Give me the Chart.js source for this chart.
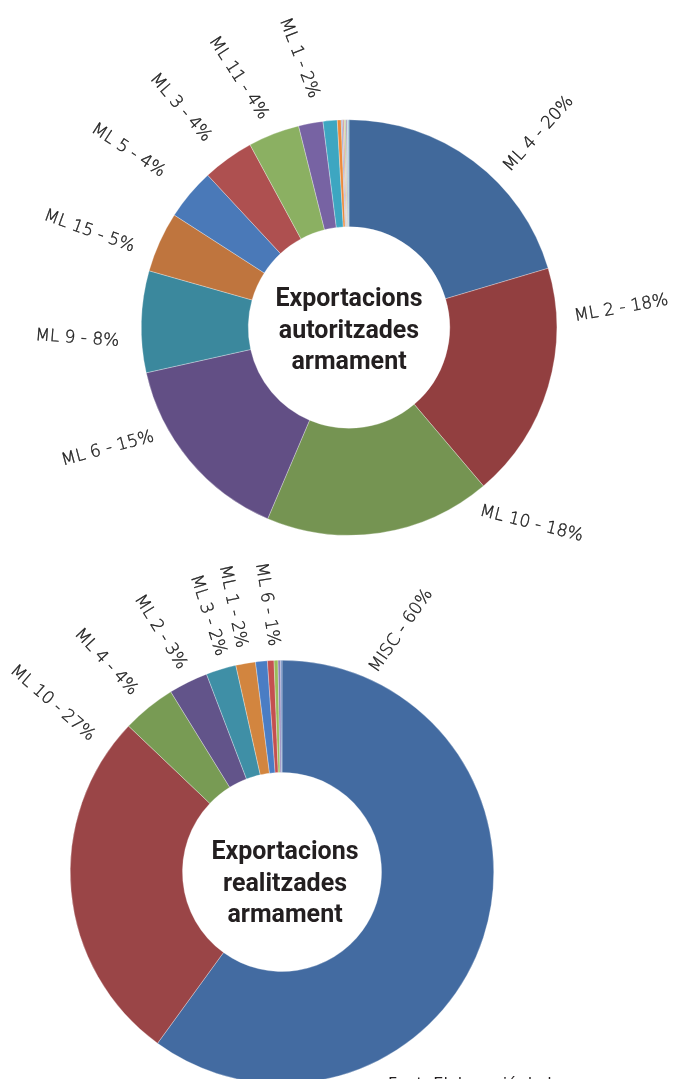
<!DOCTYPE html>
<html><head><meta charset="utf-8">
<script src="https://cdn.jsdelivr.net/npm/chart.js@4.4.1/dist/chart.umd.min.js"></script>
<style>
html,body{margin:0;padding:0;background:#fff;overflow:hidden;width:673px;height:1079px;position:relative}
#c1{position:absolute;left:0;top:0}
#c2{position:absolute;left:0;top:545px}
#src{position:absolute;left:388px;top:1076px;font:16px "DejaVu Sans";line-height:16px;color:#231f20;white-space:nowrap}
</style></head><body>
<canvas id="c1" width="673" height="545"></canvas>
<canvas id="c2" width="673" height="560"></canvas>
<div id="src">Font: Elaboració de la</div>
<script>
// ---- Data: authorised exports (top) ----
const authCategories = ['ML 4','ML 2','ML 10','ML 6','ML 9','ML 15','ML 5','ML 3','ML 11','ML 1','ML 8','ML 13','ML 7','ML 12','ML 14','ML 16','ML 17'];
const authValues = [20.4,18.4,17.6,15.1,7.9,4.7,4.0,4.0,4.0,1.9,1.1,0.3,0.12,0.12,0.12,0.12,0.12];
const authLabeled = 10; // first N categories carry a text label
// ---- Data: realised exports (bottom) ----
const realCategories = ['MISC','ML 10','ML 4','ML 2','ML 3','ML 1','ML 6','ML 5','ML 11','ML 9','ML 15'];
const realValues = [60.0,27.1,4.1,3.0,2.3,1.5,0.9,0.5,0.3,0.2,0.1];
const realLabeled = 7;
const authTitle = ['Exportacions','autoritzades','armament'];
const realTitle = ['Exportacions','realitzades','armament'];

// ---- Styles / layout ----
const authColors = ['#41699B','#923F40','#759452','#624F85','#3B889D','#BF753E','#4A79B8','#AE5050','#8BB062','#7763A3','#3DA6C1','#EB8A3B','#94A9D4','#D79896','#B7CD8E','#A799C1','#9AC8D8'];
const realColors = ['#436BA1','#9A4547','#789B54','#62548A','#3F8FA6','#D2853F','#4A7DC4','#C4504F','#9ABB5B','#8E7FB8','#6A8AC0'];
// label placement: [angle from top (deg, clockwise), distance from centre (px), text rotation (deg)]
const authLabelPos = [[44.4,271,-48],[86.0,273,-10],[137.1,268,14],[243.3,270,-15],[267.7,272,4],[290.3,277,20],[308.7,283,33],[322.5,277,49],[336.1,273,57],[349.5,274,69]];
const realLabelPos = [[26.3,269,-55],[306.3,285,41],[320,274,47],[333.1,269,58],[343.9,267,72],[349.5,270,78],[356.8,268,81]];

const labelPlugin = {
  id: 'radialLabels',
  afterDraw(chart, args, opts) {
    const ctx = chart.ctx;
    const meta = chart.getDatasetMeta(0);
    const arc = meta.data[0];
    const cx = arc.x, cy = arc.y;
    const cats = chart.data.labels, vals = chart.data.datasets[0].data;
    ctx.save();
    ctx.fillStyle = '#222';
    ctx.strokeStyle = '#222';
    ctx.lineWidth = 0.4;
    ctx.font = '200 17px "DejaVu Sans", "Open Sans", sans-serif';
    ctx.textAlign = 'center';
    ctx.textBaseline = 'middle';
    opts.pos.forEach((p, i) => {
      const a = p[0] * Math.PI / 180;
      const x = cx + p[1] * Math.sin(a), y = cy - p[1] * Math.cos(a);
      const txt = cats[i] + ' - ' + Math.round(vals[i]) + '%';
      ctx.save();
      ctx.translate(x, y);
      ctx.rotate(p[2] * Math.PI / 180);
      ctx.fillText(txt, 0, 0);
      ctx.strokeText(txt, 0, 0);
      ctx.restore();
    });
    // centre title
    ctx.fillStyle = '#231f20';
    ctx.font = 'bold 25px Roboto, "DejaVu Sans", sans-serif';
    ctx.textBaseline = 'alphabetic';
    opts.title.forEach((t, k) => {
      ctx.fillText(t, cx + opts.dx, cy + opts.y0 + k * 31.5);
    });
    ctx.restore();
  }
};

function makeChart(id, cats, vals, colors, pos, title, padding, cutout, y0, dx) {
  return new Chart(document.getElementById(id), {
    type: 'doughnut',
    data: { labels: cats, datasets: [{ data: vals, backgroundColor: colors, borderColor: 'rgba(255,255,255,0.6)', borderWidth: 0.5 }] },
    options: {
      responsive: false, animation: false, cutout: cutout,
      layout: { padding: padding },
      plugins: { legend: { display: false }, tooltip: { enabled: false },
        radialLabels: { pos: pos, title: title, y0: y0, dx: dx } }
    },
    plugins: [labelPlugin]
  });
}

makeChart('c1', authCategories, authValues, authColors, authLabelPos.slice(0, authLabeled), authTitle,
  { left: 141, right: 116, top: 119, bottom: 9 }, '48.5%', -21.5, 0);
makeChart('c2', realCategories, realValues, realColors, realLabelPos.slice(0, realLabeled), realTitle,
  { left: 70, right: 179, top: 115, bottom: 21 }, '47%', -13, 3);
</script>
</body></html>
